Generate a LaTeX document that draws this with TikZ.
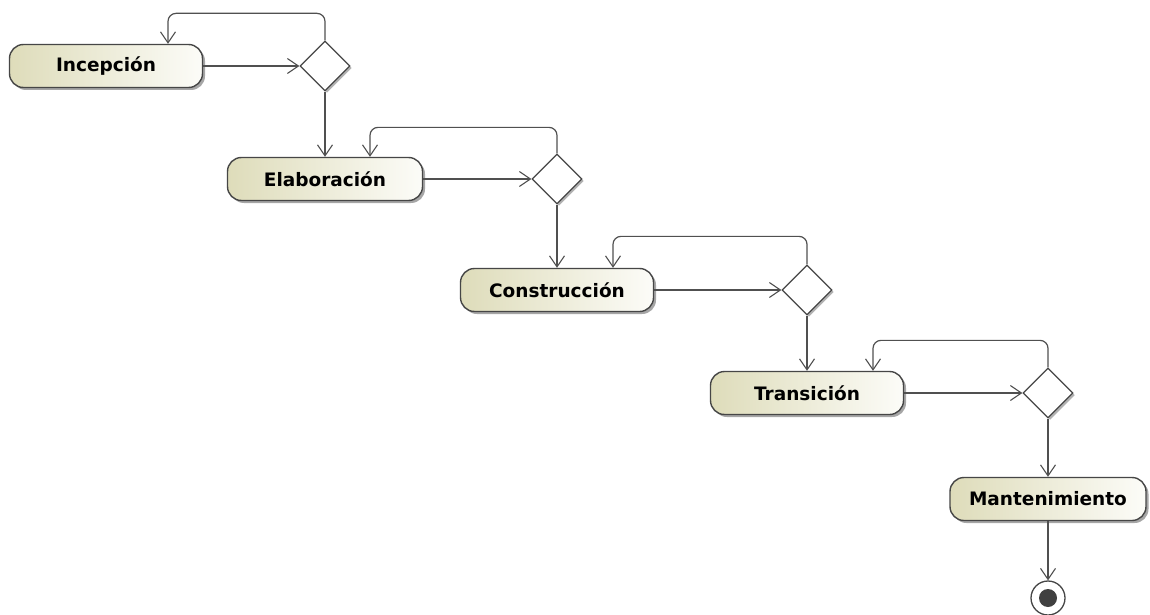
\documentclass[tikz,border=0pt]{standalone}
\usepackage{fontspec}
\setmainfont{DejaVu Sans}
\usetikzlibrary{shapes.geometric,arrows.meta,shadows}
\definecolor{edgegray}{RGB}{70,70,70}
\definecolor{linegray}{RGB}{80,80,80}
\definecolor{beige}{RGB}{222,220,186}
\definecolor{paper}{RGB}{252,252,248}
\tikzset{
  activity/.style={draw=edgegray, line width=1.4pt, rounded corners=14pt,
    minimum height=43pt, inner sep=0pt, left color=beige, right color=paper,
    drop shadow={shadow xshift=2.5pt, shadow yshift=-2.5pt, opacity=0.35, fill=black},
    font=\bfseries\fontsize{18.5}{20}\selectfont},
  decision/.style={diamond, aspect=1, draw=edgegray, line width=1.3pt, fill=white,
    minimum width=50pt, minimum height=50pt, inner sep=0pt,
    drop shadow={shadow xshift=2pt, shadow yshift=-2pt, opacity=0.3, fill=black}},
  flow/.style={draw=linegray, line width=1.2pt,
    -{Straight Barb[length=11pt, width=15pt, line width=1.1pt]}},
  loopback/.style={flow, rounded corners=8pt},
  finalnode/.style={circle, draw=edgegray, line width=1.3pt, fill=white,
    minimum size=34pt, inner sep=0pt,
    path picture={\fill[black!75] (path picture bounding box.center) circle (9pt);}}
}
\begin{document}
\begin{tikzpicture}[x=1pt, y=-1pt]
  \useasboundingbox[fill=white] (0,0) rectangle (1150,615);

  % phases
  \node[activity, minimum width=193pt] (inc) at (106,66) {Incepción};
  \node[activity, minimum width=195pt] (ela) at (325,179) {Elaboración};
  \node[activity, minimum width=193pt] (con) at (557,290) {Construcción};
  \node[activity, minimum width=193pt] (tra) at (807,393) {Transición};
  \node[activity, minimum width=196pt] (man) at (1048,499) {Mantenimiento};

  % decisions
  \node[decision] (d1) at (325,66) {};
  \node[decision] (d2) at (557,179) {};
  \node[decision] (d3) at (807,290) {};
  \node[decision] (d4) at (1048,393) {};

  % final state
  \node[finalnode] (fin) at (1048,598) {};

  % phase to decision
  \draw[flow] (inc.east) -- (d1.west);
  \draw[flow] (ela.east) -- (d2.west);
  \draw[flow] (con.east) -- (d3.west);
  \draw[flow] (tra.east) -- (d4.west);

  % iterations back to the phase
  \draw[loopback] (d1.north) -- ++(0,-27) -| ([xshift=62pt]inc.north);
  \draw[loopback] (d2.north) -- ++(0,-26) -| ([xshift=45pt]ela.north);
  \draw[loopback] (d3.north) -- ++(0,-28) -| ([xshift=56pt]con.north);
  \draw[loopback] (d4.north) -- ++(0,-27) -| ([xshift=66pt]tra.north);

  % decision to next phase
  \draw[flow] (d1.south) -- (ela.north);
  \draw[flow] (d2.south) -- (con.north);
  \draw[flow] (d3.south) -- (tra.north);
  \draw[flow] (d4.south) -- (man.north);
  \draw[flow] (man.south) -- (fin.north);
\end{tikzpicture}
\end{document}
